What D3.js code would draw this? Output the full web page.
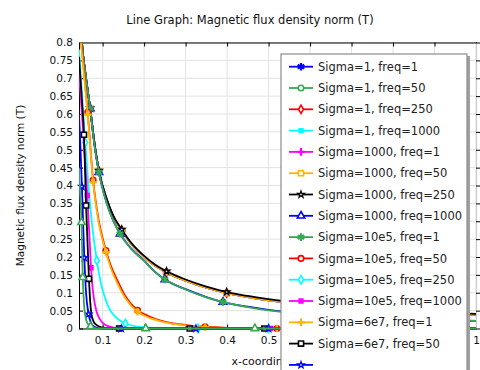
<!DOCTYPE html>
<html>
<head>
<meta charset="utf-8">
<script src="https://cdn.jsdelivr.net/npm/d3@7"></script>
<style>
body { margin: 0; background: #fff; }
svg { display: block; font-family: "DejaVu Sans", sans-serif; }
</style>
</head>
<body>
<svg id="chart" width="480" height="370"></svg>
<script>
// ---- data ----
var xTicks = [0.1, 0.2, 0.3, 0.4, 0.5, 0.6, 0.7, 0.8, 0.9, 1];
var yTicks = [0, 0.05, 0.1, 0.15, 0.2, 0.25, 0.3, 0.35, 0.4, 0.45, 0.5, 0.55, 0.6, 0.65, 0.7, 0.75, 0.8];

var seriesNames = [
    "Sigma=1, freq=1", "Sigma=1, freq=50", "Sigma=1, freq=250", "Sigma=1, freq=1000",
    "Sigma=1000, freq=1", "Sigma=1000, freq=50", "Sigma=1000, freq=250", "Sigma=1000, freq=1000",
    "Sigma=10e5, freq=1", "Sigma=10e5, freq=50", "Sigma=10e5, freq=250", "Sigma=10e5, freq=1000",
    "Sigma=6e7, freq=1", "Sigma=6e7, freq=50", "Sigma=6e7, freq=250", "Sigma=6e7, freq=1000"
];

// almost static field (low sigma*freq)
var nearStatic = [[0.043,0.93],[0.05,0.8],[0.06,0.7],[0.07,0.615],[0.08,0.52],[0.091,0.44],[0.11,0.36],
    [0.125,0.315],[0.146,0.274],[0.17,0.235],[0.2,0.2],[0.225,0.177],[0.254,0.157],[0.3,0.134],
    [0.35,0.114],[0.399,0.099],[0.45,0.088],[0.5,0.079],[0.6,0.066],[0.7,0.057],[0.8,0.05],[0.9,0.044],[1,0.039]];
var nearStaticMarks = [[0.07,0.615],[0.091,0.44],[0.146,0.274],[0.254,0.157],[0.399,0.099],[0.65,0.061]];

var s1000f250 = [[0.043,0.93],[0.05,0.8],[0.06,0.7],[0.07,0.616],[0.08,0.522],[0.091,0.442],[0.11,0.362],
    [0.125,0.317],[0.146,0.277],[0.17,0.238],[0.2,0.203],[0.225,0.18],[0.254,0.16],[0.3,0.137],
    [0.35,0.117],[0.399,0.102],[0.45,0.091],[0.5,0.082],[0.6,0.069],[0.7,0.059],[0.8,0.052],[0.9,0.046],[1,0.041]];
var s1000f250Marks = [[0.07,0.616],[0.091,0.442],[0.146,0.277],[0.254,0.16],[0.399,0.102],[0.65,0.064]];

var s1000f1000 = [[0.043,0.93],[0.05,0.8],[0.06,0.7],[0.07,0.615],[0.08,0.515],[0.091,0.437],[0.11,0.35],
    [0.125,0.303],[0.142,0.265],[0.17,0.222],[0.2,0.19],[0.225,0.16],[0.25,0.137],[0.3,0.11],
    [0.35,0.088],[0.39,0.074],[0.45,0.061],[0.5,0.052],[0.6,0.04],[0.7,0.032],[0.8,0.027],[0.9,0.024],[1,0.021]];
var s10e5f1 = [[0.043,0.93],[0.05,0.8],[0.06,0.7],[0.07,0.615],[0.08,0.515],[0.091,0.437],[0.11,0.35],
    [0.125,0.303],[0.142,0.265],[0.17,0.221],[0.2,0.189],[0.225,0.159],[0.25,0.137],[0.3,0.109],
    [0.35,0.087],[0.39,0.074],[0.45,0.06],[0.5,0.051],[0.6,0.039],[0.7,0.032],[0.8,0.027],[0.9,0.024],[1,0.021]];
var greenMarks = [[0.07,0.615],[0.091,0.437],[0.142,0.265],[0.25,0.137],[0.39,0.074],[0.62,0.038]];

var s10e5f50 = [[0.043,0.87],[0.05,0.78],[0.064,0.605],[0.077,0.415],[0.09,0.305],[0.108,0.218],[0.12,0.175],
    [0.134,0.138],[0.154,0.092],[0.184,0.051],[0.21,0.035],[0.24,0.022],[0.27,0.014],[0.306,0.009],
    [0.347,0.005],[0.4,0.002],[0.45,0.001],[0.52,0],[0.7,0],[1,0]];
var s10e5f50Marks = [[0.064,0.605],[0.077,0.415],[0.108,0.218],[0.184,0.051],[0.347,0.005],[0.52,0]];

var s10e5f250 = [[0.043,0.78],[0.05,0.66],[0.058,0.52],[0.065,0.41],[0.075,0.285],[0.086,0.19],[0.098,0.116],
    [0.106,0.085],[0.114,0.06],[0.13,0.033],[0.155,0.014],[0.18,0.006],[0.22,0.002],[0.3,0],[1,0]];
var s10e5f250Marks = [[0.058,0.52],[0.086,0.19],[0.155,0.014],[0.33,0],[0.5,0]];

var s10e5f1000 = [[0.043,0.72],[0.05,0.6],[0.057,0.48],[0.063,0.372],[0.068,0.26],[0.072,0.17],[0.076,0.11],
    [0.081,0.07],[0.086,0.045],[0.093,0.027],[0.1,0.016],[0.11,0.008],[0.13,0.002],[0.15,0],[1,0]];
var s10e5f1000Marks = [[0.063,0.372],[0.072,0.17],[0.138,0],[0.322,0],[0.505,0]];

var s6e7f1 = [[0.043,0.86],[0.05,0.77],[0.064,0.598],[0.077,0.409],[0.09,0.298],[0.108,0.213],[0.12,0.168],
    [0.134,0.13],[0.154,0.086],[0.184,0.047],[0.21,0.031],[0.24,0.02],[0.27,0.013],[0.306,0.008],
    [0.347,0.004],[0.4,0.002],[0.45,0.0005],[0.52,0],[0.7,0],[1,0]];
var s6e7f1Marks = [[0.064,0.598],[0.077,0.409],[0.108,0.213],[0.184,0.047],[0.347,0.004],[0.52,0]];

var s6e7f50 = [[0.043,0.76],[0.05,0.64],[0.055,0.542],[0.06,0.344],[0.067,0.139],[0.07,0.075],[0.073,0.04],
    [0.078,0.02],[0.085,0.01],[0.095,0.004],[0.11,0.001],[0.13,0],[1,0]];
var s6e7f50Marks = [[0.055,0.542],[0.06,0.344],[0.067,0.139],[0.14,0],[0.31,0],[0.49,0]];

var s6e7f250 = [[0.043,0.6],[0.046,0.52],[0.05,0.397],[0.0558,0.198],[0.06,0.1],[0.066,0.04],[0.072,0.016],
    [0.08,0.005],[0.09,0.001],[0.1,0],[1,0]];
var s6e7f250Marks = [[0.05,0.397],[0.0558,0.198],[0.066,0.04],[0.145,0],[0.325,0],[0.5,0]];

var s6e7f1000 = [[0.043,0.45],[0.046,0.37],[0.049,0.297],[0.052,0.143],[0.055,0.07],[0.06,0.025],[0.066,0.01],
    [0.071,0.006],[0.08,0.002],[0.09,0],[1,0]];
var s6e7f1000Marks = [[0.049,0.297],[0.052,0.143],[0.071,0.006],[0.204,0],[0.467,0]];

var seriesLines = [nearStatic, nearStatic, nearStatic, nearStatic, nearStatic, nearStatic, s1000f250, s1000f1000,
    s10e5f1, s10e5f50, s10e5f250, s10e5f1000, s6e7f1, s6e7f50, s6e7f250, s6e7f1000];
var seriesMarks = [nearStaticMarks, nearStaticMarks, nearStaticMarks, nearStaticMarks, nearStaticMarks, nearStaticMarks,
    s1000f250Marks, greenMarks, greenMarks, s10e5f50Marks, s10e5f250Marks, s10e5f1000Marks,
    s6e7f1Marks, s6e7f50Marks, s6e7f250Marks, s6e7f1000Marks];

// ---- styles ----
var colorCycle = ["#0000ff", "#36a852", "#ff0000", "#00ffff", "#ff00ff", "#ffb400", "#000000"];
var markerCycle = ["asterisk", "circle", "diamond", "point", "plus", "square", "star", "triangle"];

var svg = d3.select("#chart");
var plot = {left: 79, right: 476, top: 42.5, bottom: 328.5};
var legendBox = {x: 281, y: 54, w: 186, rowY: 66.7, rowH: 21.3};

var x = d3.scaleLinear().domain([0.043, 1]).range([plot.left, plot.right]);
var y = d3.scaleLinear().domain([0, 0.8]).range([plot.bottom, plot.top]);

svg.append("defs").append("clipPath").attr("id", "plotClip")
    .append("rect")
    .attr("x", plot.left).attr("y", plot.top)
    .attr("width", plot.right - plot.left).attr("height", plot.bottom - plot.top + 2);

// title
svg.append("text")
    .attr("x", 250).attr("y", 24)
    .attr("text-anchor", "middle")
    .style("font-size", "11.5px")
    .attr("fill", "#111")
    .text("Line Graph: Magnetic flux density norm (T)");

// grid
var grid = svg.append("g").attr("stroke", "#e2e2e2").attr("stroke-width", 1);
grid.selectAll(".gx").data(xTicks).enter().append("line")
    .attr("x1", d => x(d)).attr("x2", d => x(d))
    .attr("y1", plot.top).attr("y2", plot.bottom);
grid.selectAll(".gy").data(yTicks).enter().append("line")
    .attr("x1", plot.left).attr("x2", plot.right)
    .attr("y1", d => y(d)).attr("y2", d => y(d));

// axes
function styleAxis(sel) {
    sel.attr("font-family", "DejaVu Sans").attr("font-size", 10.5);
    sel.selectAll("text").attr("fill", "#111");
}
// x labels sitting under the legend box are covered in the reference
var hiddenByLegend = d => x(d) > legendBox.x && x(d) < legendBox.x + legendBox.w + 4;
svg.append("g")
    .attr("transform", "translate(0," + plot.bottom + ")")
    .call(d3.axisBottom(x).tickValues(xTicks).tickSize(-4).tickSizeOuter(0).tickPadding(8)
        .tickFormat(d => hiddenByLegend(d) ? "" : d))
    .call(styleAxis);
svg.append("g")
    .attr("transform", "translate(" + plot.left + ",0)")
    .call(d3.axisLeft(y).tickValues(yTicks).tickSize(-4).tickSizeOuter(0).tickPadding(6).tickFormat(d => d))
    .call(styleAxis);
svg.append("g")
    .attr("transform", "translate(0," + plot.top + ")")
    .call(d3.axisTop(x).tickValues(xTicks).tickSize(-4).tickSizeOuter(0).tickFormat(""));
var rightAxis = svg.append("g")
    .attr("transform", "translate(" + plot.right + ",0)")
    .call(d3.axisRight(y).tickValues(yTicks).tickSize(4).tickSizeOuter(0).tickFormat(""));
rightAxis.select(".domain").attr("stroke", "#c8c8c8");

// axis titles
svg.append("text")
    .attr("x", (plot.left + plot.right) / 2).attr("y", 365)
    .attr("text-anchor", "middle")
    .style("font-size", "11px")
    .attr("fill", "#111")
    .text("x-coordinate (m)");
svg.append("text")
    .attr("transform", "rotate(-90)")
    .attr("x", -(plot.top + plot.bottom) / 2).attr("y", 24)
    .attr("text-anchor", "middle")
    .style("font-size", "10.5px")
    .attr("fill", "#111")
    .text("Magnetic flux density norm (T)");

// markers
function markerPath(type) {
    if (type === "asterisk") return "M0,-3.8V3.8M-3.3,-1.9L3.3,1.9M-3.3,1.9L3.3,-1.9";
    if (type === "plus") return "M-3.8,0H3.8M0,-3.8V3.8";
    var t = {circle: d3.symbolCircle, diamond: d3.symbolDiamond, point: d3.symbolSquare,
             square: d3.symbolSquare, star: d3.symbolStar, triangle: d3.symbolTriangle}[type];
    var size = {circle: 24, diamond: 20, point: 14, square: 26, star: 13, triangle: 24}[type];
    return d3.symbol(t, size)();
}
function drawMarker(sel, type, color) {
    sel.attr("d", markerPath(type))
        .attr("stroke", color)
        .attr("stroke-width", type === "asterisk" || type === "plus" ? 2.2 : (type === "star" ? 1.3 : 1.6))
        .attr("fill", type === "point" ? color : (type === "asterisk" || type === "plus" ? "none" : "#fff"));
}

var line = d3.line()
    .x(d => x(d[0]))
    .y(d => y(d[1]))
    .curve(d3.curveMonotoneX);

var curves = svg.append("g");
seriesNames.forEach(function(name, i) {
    var color = colorCycle[i % colorCycle.length];
    var marker = markerCycle[i % markerCycle.length];
    var g = curves.append("g");
    g.append("path")
        .datum(seriesLines[i])
        .attr("clip-path", "url(#plotClip)")
        .attr("fill", "none")
        .attr("stroke", color)
        .attr("stroke-width", 1.8)
        .attr("d", line);
    g.selectAll(".m").data(seriesMarks[i]).enter().append("path")
        .attr("transform", d => "translate(" + x(d[0]) + "," + y(d[1]) + ")")
        .call(drawMarker, marker, color);
});

// legend
var legend = svg.append("g");
legend.append("rect")
    .attr("x", legendBox.x + 2).attr("y", legendBox.y + 2).attr("width", legendBox.w + 1).attr("height", 340)
    .attr("fill", "#a0a0a0");
legend.append("rect")
    .attr("x", legendBox.x).attr("y", legendBox.y).attr("width", legendBox.w).attr("height", 340)
    .attr("fill", "#fff").attr("stroke", "#8c8c8c").attr("stroke-width", 1.2);

var rows = legend.selectAll(".row").data(seriesNames).enter().append("g")
    .attr("transform", (d, i) => "translate(0," + (legendBox.rowY + i * legendBox.rowH) + ")");
rows.append("line")
    .attr("x1", 289).attr("x2", 313)
    .attr("stroke", (d, i) => colorCycle[i % colorCycle.length])
    .attr("stroke-width", 1.8);
rows.each(function(d, i) {
    d3.select(this).append("path")
        .attr("transform", "translate(301,0)")
        .call(drawMarker, markerCycle[i % markerCycle.length], colorCycle[i % colorCycle.length]);
});
// only the labels the reference shows (the lower rows fall off the picture)
rows.filter((d, i) => legendBox.rowY + i * legendBox.rowH < 356)
    .append("text")
    .attr("x", 318)
    .attr("dy", "0.36em")
    .style("font-size", "11.5px")
    .attr("fill", "#222")
    .text(d => d);
</script>
</body>
</html>
